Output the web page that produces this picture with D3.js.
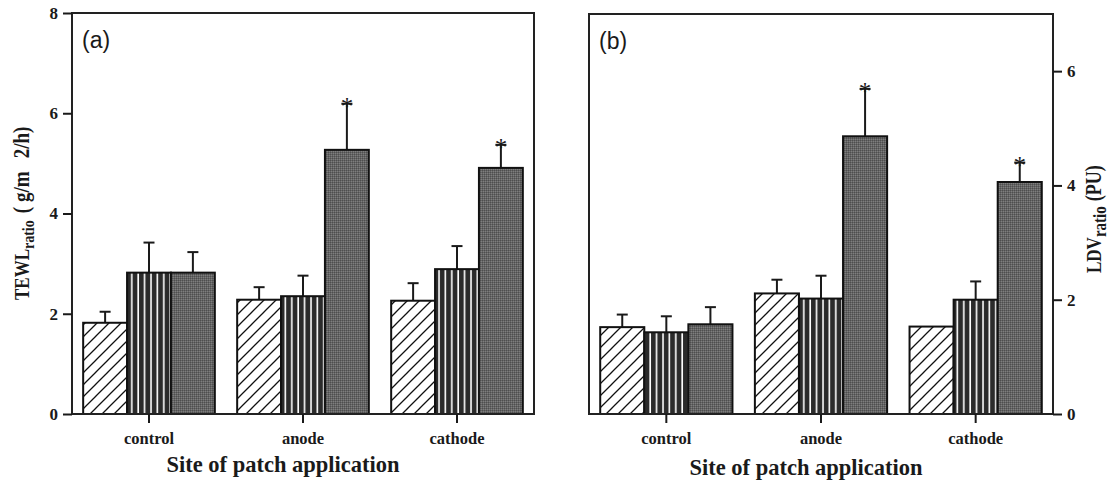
<!DOCTYPE html>
<html>
<head>
<meta charset="utf-8">
<script src="https://cdn.jsdelivr.net/npm/d3@7"></script>
<style>
  html, body { margin: 0; padding: 0; background: #fff; }
  svg { display: block; }
</style>
</head>
<body>
<svg id="chart" width="1112" height="480"></svg>
<script>
// Sites and treatment series
const categories = ["control", "anode", "cathode"];
const seriesKeys = ["diag", "stripe", "grey"];

// Panel (a): TEWL ratio means and upper error
const tewlDiag   = [1.82, 2.28, 2.26];
const tewlStripe = [2.82, 2.35, 2.89];
const tewlGrey   = [2.82, 5.27, 4.91];
const tewlDiagErr   = [0.22, 0.25, 0.35];
const tewlStripeErr = [0.60, 0.41, 0.46];
const tewlGreyErr   = [0.41, 0.92, 0.46];
const tewlStars = [[], [], ["anode", "cathode"]];
const tewlTicks = [0, 2, 4, 6, 8];

// Panel (b): LDV ratio means and upper error
const ldvDiag   = [1.52, 2.11, 1.53];
const ldvStripe = [1.43, 2.02, 2.00];
const ldvGrey   = [1.57, 4.86, 4.06];
const ldvDiagErr   = [0.22, 0.24, 0];
const ldvStripeErr = [0.28, 0.40, 0.32];
const ldvGreyErr   = [0.30, 0.83, 0.34];
const ldvStars = [[], [], ["anode", "cathode"]];
const ldvTicks = [0, 2, 4, 6];

const svg = d3.select("#chart");
const SERIF = "'Liberation Serif', 'Times New Roman', serif";
const SANS = "'Liberation Sans', Arial, sans-serif";
const INK = "#1a1a1a";

// Fill patterns
const defs = svg.append("defs");
const pDiag = defs.append("pattern").attr("id", "pat-diag")
  .attr("patternUnits", "userSpaceOnUse").attr("width", 12).attr("height", 12);
pDiag.append("rect").attr("width", 12).attr("height", 12).attr("fill", "#fff");
pDiag.append("path").attr("d", "M0,12 L12,0 M-3,3 L3,-3 M9,15 L15,9")
  .attr("stroke", "#111").attr("stroke-width", 1.3);

const pStripe = defs.append("pattern").attr("id", "pat-stripe")
  .attr("patternUnits", "userSpaceOnUse").attr("width", 6.4).attr("height", 10);
pStripe.append("rect").attr("width", 6.4).attr("height", 10).attr("fill", "#2b2b2b");
pStripe.append("rect").attr("x", 3).attr("width", 1.6).attr("height", 10).attr("fill", "#fff");

const pGrey = defs.append("pattern").attr("id", "pat-grey")
  .attr("patternUnits", "userSpaceOnUse").attr("width", 2).attr("height", 2);
pGrey.append("rect").attr("width", 2).attr("height", 2).attr("fill", "#646464");
pGrey.append("rect").attr("width", 1).attr("height", 1).attr("fill", "#4e4e4e");
pGrey.append("rect").attr("x", 1).attr("y", 1).attr("width", 1).attr("height", 1).attr("fill", "#7e7e7e");

const fills = { diag: "url(#pat-diag)", stripe: "url(#pat-stripe)", grey: "url(#pat-grey)" };

function drawPanel(opt) {
  const g = svg.append("g");
  const x = d3.scaleBand().domain(categories).range([opt.left, opt.right]).padding(0);
  const gw = x.bandwidth() * 0.855;
  const xs = d3.scaleBand().domain(seriesKeys).range([-gw / 2, gw / 2]).padding(0);
  const y = d3.scaleLinear().domain([0, opt.yMax]).range([opt.bottom, opt.top]);

  const rows = [];
  seriesKeys.forEach((k, si) => {
    categories.forEach((c, ci) => {
      rows.push({ key: k, cat: c, v: opt.means[si][ci], e: opt.errs[si][ci],
                  star: opt.stars[si].includes(c) });
    });
  });

  const cx = d => x(d.cat) + x.bandwidth() / 2 + xs(d.key) + xs.bandwidth() / 2;

  // error bars (upper only)
  const eb = g.selectAll("g.err").data(rows.filter(d => d.e > 0)).join("g").attr("class", "err");
  eb.append("line")
    .attr("x1", cx).attr("x2", cx)
    .attr("y1", d => y(d.v)).attr("y2", d => y(d.v + d.e))
    .attr("stroke", INK).attr("stroke-width", 2);
  eb.append("line")
    .attr("x1", d => cx(d) - 5.5).attr("x2", d => cx(d) + 5.5)
    .attr("y1", d => y(d.v + d.e)).attr("y2", d => y(d.v + d.e))
    .attr("stroke", INK).attr("stroke-width", 2);

  // bars
  g.selectAll("rect.bar").data(rows).join("rect").attr("class", "bar")
    .attr("x", d => x(d.cat) + x.bandwidth() / 2 + xs(d.key))
    .attr("y", d => y(d.v))
    .attr("width", xs.bandwidth())
    .attr("height", d => y(0) - y(d.v))
    .attr("fill", d => fills[d.key])
    .attr("stroke", "#111").attr("stroke-width", 2);

  // significance marks
  g.selectAll("text.star").data(rows.filter(d => d.star)).join("text").attr("class", "star")
    .attr("x", cx).attr("y", d => y(d.v + d.e) + 11)
    .attr("text-anchor", "middle")
    .attr("font-family", SERIF).attr("font-size", 25).attr("fill", INK)
    .text("*");

  // frame
  g.append("rect")
    .attr("x", opt.left).attr("y", opt.top)
    .attr("width", opt.right - opt.left).attr("height", opt.bottom - opt.top)
    .attr("fill", "none").attr("stroke", "#222").attr("stroke-width", 2);

  // category axis
  const xa = g.append("g").attr("transform", `translate(0,${opt.bottom})`)
    .call(d3.axisBottom(x).tickSize(9).tickPadding(9));
  xa.select(".domain").remove();
  xa.selectAll(".tick line").attr("stroke", INK).attr("stroke-width", 2);
  xa.selectAll(".tick text").attr("font-family", SERIF).attr("font-weight", "bold")
    .attr("font-size", 16.5).attr("fill", INK);

  // value axis
  const axisFn = opt.rightAxis ? d3.axisRight(y) : d3.axisLeft(y);
  const ya = g.append("g").attr("transform", `translate(${opt.rightAxis ? opt.right : opt.left},0)`)
    .call(axisFn.tickValues(opt.ticks).tickSize(9).tickPadding(5).tickFormat(d3.format("d")));
  ya.select(".domain").remove();
  ya.selectAll(".tick line").attr("stroke", INK).attr("stroke-width", 2);
  ya.selectAll(".tick text").attr("font-family", SERIF).attr("font-weight", "bold")
    .attr("font-size", 17).attr("fill", INK);

  // panel tag
  g.append("text").attr("x", opt.left + 10).attr("y", opt.top + 35)
    .attr("font-family", SANS).attr("font-size", 23).attr("fill", INK)
    .text(opt.tag);

  // x title
  g.append("text").attr("x", (opt.left + opt.right) / 2 + opt.titleDx).attr("y", opt.titleY)
    .attr("text-anchor", "middle")
    .attr("font-family", SERIF).attr("font-weight", "bold").attr("font-size", 22.5).attr("fill", INK)
    .text("Site of patch application");

  // y title, read bottom-to-top, glyphs widened across the line
  const yt = g.append("text")
    .attr("transform", `translate(${opt.yTitleX},${opt.yTitleStart}) rotate(-90) scale(1,1.25)`)
    .attr("text-anchor", "start")
    .attr("font-family", SERIF).attr("font-weight", "bold").attr("fill", INK);
  yt.append("tspan").attr("font-size", opt.yMainSize).text(opt.yMain);
  yt.append("tspan").attr("font-size", opt.ySubSize).attr("dy", 4).text("ratio");
  opt.yUnitParts.forEach((p, i) => {
    yt.append("tspan").attr("font-size", opt.yUnitSize)
      .attr("dy", i === 0 ? -4 : null).attr("dx", p[0]).text(p[1]);
  });
}

drawPanel({
  left: 72, right: 534, top: 13, bottom: 414, yMax: 8, ticks: tewlTicks,
  means: [tewlDiag, tewlStripe, tewlGrey], errs: [tewlDiagErr, tewlStripeErr, tewlGreyErr],
  stars: tewlStars, rightAxis: false, tag: "(a)", titleY: 472, titleDx: -20,
  yTitleX: 29, yTitleStart: 300, yMain: "TEWL",
  yUnitParts: [[7, "("], [5, "g/m"], [13, "2/h)"]],
  yMainSize: 17, ySubSize: 14, yUnitSize: 19
});

drawPanel({
  left: 589, right: 1053, top: 14, bottom: 414, yMax: 7, ticks: ldvTicks,
  means: [ldvDiag, ldvStripe, ldvGrey], errs: [ldvDiagErr, ldvStripeErr, ldvGreyErr],
  stars: ldvStars, rightAxis: true, tag: "(b)", titleY: 475, titleDx: -15,
  yTitleX: 1101, yTitleStart: 273, yMain: "LDV",
  yUnitParts: [[5, "(PU)"]],
  yMainSize: 17, ySubSize: 15, yUnitSize: 18
});
</script>
</body>
</html>
